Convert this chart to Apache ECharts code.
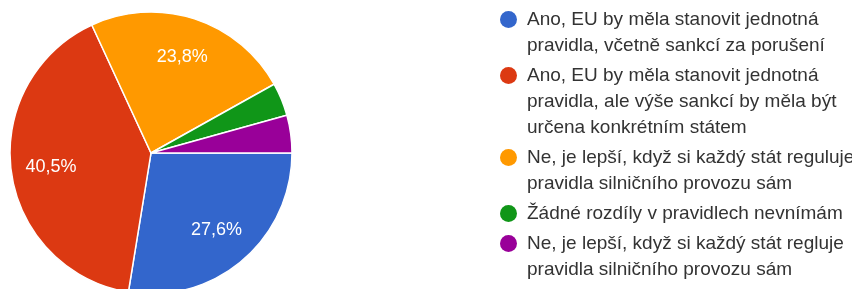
<!DOCTYPE html>
<html>
<head>
<meta charset="utf-8">
<style>
  html, body { margin: 0; padding: 0; background: #fff; }
  #chart { width: 852px; height: 289px; }
</style>
<script src="https://cdn.jsdelivr.net/npm/echarts@6/dist/echarts.min.js"></script>
</head>
<body>
<div id="chart"></div>
<script>
// odpovědi a počty hlasů
const categories = [
  'Ano, EU by měla stanovit jednotná\npravidla, včetně sankcí za porušení',
  'Ano, EU by měla stanovit jednotná\npravidla, ale výše sankcí by měla být\nurčena konkrétním státem',
  'Ne, je lepší, když si každý stát reguluje\npravidla silničního provozu sám',
  'Žádné rozdíly v pravidlech nevnímám',
  'Ne, je lepší, když si každý stát regluje\npravidla silničního provozu sám'
];
const counts = [51, 75, 44, 7, 8];
const colors = ['#3366cc', '#dc3912', '#ff9900', '#109618', '#990099'];

const FONT = '"Liberation Sans", Arial, sans-serif';
const LINE_H = 26;

const chart = echarts.init(document.getElementById('chart'));

const pieData = categories.map((name, i) => ({
  name,
  value: counts[i],
  itemStyle: { color: colors[i] }
}));

const option = {
  backgroundColor: '#fff',
  animation: false,
  legend: {
    orient: 'vertical',
    left: 500,
    top: 10,
    padding: 0,
    itemWidth: 17,
    itemHeight: 17,
    itemGap: 11,
    icon: 'circle',
    selectedMode: false,
    itemStyle: { borderWidth: 0 },
    formatter: name => '{t|' + name + '}',
    textStyle: {
      rich: {
        t: {
          fontFamily: FONT,
          fontSize: 19,
          color: '#333',
          lineHeight: LINE_H
        }
      }
    },
    // horní odsazení, aby první řádek seděl u značky
    data: categories.map(name => ({
      name,
      textStyle: {
        padding: [(name.split('\n').length - 1) * LINE_H, 0, 0, 5]
      }
    }))
  },
  series: [
    {
      type: 'pie',
      center: [151, 153],
      radius: [0, 141],
      startAngle: 0,
      clockwise: true,
      label: { show: false },
      labelLine: { show: false },
      itemStyle: { borderColor: '#fff', borderWidth: 1.5 },
      emphasis: { disabled: true },
      data: pieData
    },
    {
      // průhledná vrstva jen pro popisky procent
      type: 'pie',
      center: [151, 153],
      radius: [0, 196],
      startAngle: 0,
      clockwise: true,
      silent: true,
      z: 3,
      itemStyle: { color: 'rgba(0,0,0,0)' },
      labelLine: { show: false },
      emphasis: { disabled: true },
      label: {
        show: true,
        position: 'inside',
        fontFamily: FONT,
        fontSize: 18,
        color: '#fff',
        formatter: p => p.percent < 10 ? '' : p.percent.toFixed(1).replace('.', ',') + '%'
      },
      percentPrecision: 1,
      data: categories.map((name, i) => ({ name, value: counts[i] }))
    }
  ]
};

chart.setOption(option);
</script>
</body>
</html>
